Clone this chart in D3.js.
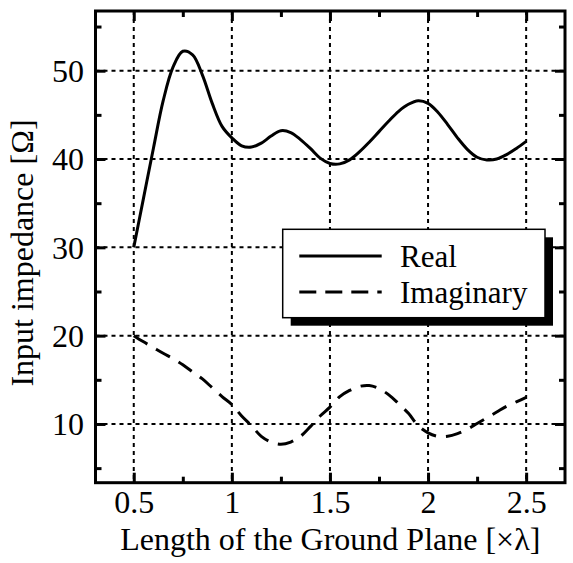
<!DOCTYPE html>
<html>
<head>
<meta charset="utf-8">
<script src="https://cdn.jsdelivr.net/npm/d3@7"></script>
<style>
  html, body { margin: 0; padding: 0; background: #fff; }
  svg { display: block; }
</style>
</head>
<body>
<svg id="chart" width="573" height="563"></svg>
<script>
// ---- data ----
const lengths = [0.5,0.55,0.6,0.65,0.7,0.75,0.8,0.85,0.9,0.95,1.0,1.05,1.1,1.15,1.2,1.25,1.3,1.35,1.4,1.45,1.5,1.55,1.6,1.65,1.7,1.75,1.8,1.85,1.9,1.95,2.0,2.05,2.1,2.15,2.2,2.25,2.3,2.35,2.4,2.45,2.5];
const realPart = [30.0,35.6,41.2,46.6,50.4,52.2,51.8,49.5,46.3,43.7,42.4,41.5,41.35,41.8,42.6,43.2,43.0,42.2,41.2,40.1,39.5,39.45,39.9,40.8,41.9,43.1,44.3,45.4,46.2,46.6,46.3,45.3,43.9,42.4,41.1,40.2,39.9,40.0,40.5,41.2,42.0];
const imagPart = [20.0,19.3,18.65,18.0,17.4,16.7,15.9,15.1,14.1,13.1,12.2,10.9,9.8,8.6,7.95,7.7,7.95,8.6,9.7,10.9,11.9,13.1,13.8,14.25,14.35,14.0,13.3,12.3,11.2,9.8,9.0,8.6,8.6,8.9,9.4,10.05,10.7,11.35,12.0,12.5,13.0];
const seriesNames = ["Real", "Imaginary"];
const xMajorTicks = [0.5, 1, 1.5, 2, 2.5];
const xTickLabels = ["0.5", "1", "1.5", "2", "2.5"];
const xMinorTicks = [0.75, 1.25, 1.75, 2.25];
const yMajorTicks = [10, 20, 30, 40, 50];
const yTickLabels = ["10", "20", "30", "40", "50"];
const yMinorTicks = [5, 15, 25, 35, 45, 55];
const xTitle = "Length of the Ground Plane [\u00D7\u03BB]";
const yTitle = "Input impedance [\u03A9]";

const FONT = "'Liberation Serif', 'Times New Roman', serif";

// ---- layout ----
const L = 95.5, T = 11, R = 565, B = 482.7;
const svg = d3.select("#chart");
const x = d3.scaleLinear().domain([0.305, 2.698]).range([L, R]);
const y = d3.scaleLinear().domain([3.35, 56.76]).range([B, T]);

// grid
const grid = svg.append("g");
grid.selectAll("line.gx").data(xMajorTicks).join("line")
  .attr("x1", d => x(d)).attr("x2", d => x(d)).attr("y1", T).attr("y2", B)
  .attr("stroke", "#000").attr("stroke-width", 2).attr("stroke-dasharray", "4,4");
grid.selectAll("line.gy").data(yMajorTicks).join("line")
  .attr("y1", d => y(d)).attr("y2", d => y(d)).attr("x1", L).attr("x2", R)
  .attr("stroke", "#000").attr("stroke-width", 2).attr("stroke-dasharray", "4,4");

// axes (inward ticks)
function styleAxis(g) {
  g.select(".domain").remove();
  g.selectAll(".tick line").attr("stroke", "#000").attr("stroke-width", 3);
}
const idx = (arr, d) => arr.indexOf(d);
svg.append("g").attr("transform", `translate(0,${B})`)
  .call(d3.axisBottom(x).tickValues(xMajorTicks).tickSize(-10).tickFormat(d => xTickLabels[idx(xMajorTicks, d)]))
  .call(styleAxis)
  .call(g => g.selectAll("text").attr("y", 30).attr("dy", 0)
     .style("font-family", FONT).style("font-size", "32px").style("fill", "#000"));
svg.append("g").attr("transform", `translate(0,${B})`)
  .call(d3.axisBottom(x).tickValues(xMinorTicks).tickSize(-6).tickFormat(""))
  .call(styleAxis);
svg.append("g").attr("transform", `translate(0,${T})`)
  .call(d3.axisTop(x).tickValues(xMajorTicks).tickSize(-10).tickFormat(""))
  .call(styleAxis);
svg.append("g").attr("transform", `translate(0,${T})`)
  .call(d3.axisTop(x).tickValues(xMinorTicks).tickSize(-6).tickFormat(""))
  .call(styleAxis);
svg.append("g").attr("transform", `translate(${L},0)`)
  .call(d3.axisLeft(y).tickValues(yMajorTicks).tickSize(-10).tickFormat(d => yTickLabels[idx(yMajorTicks, d)]))
  .call(styleAxis)
  .call(g => g.selectAll("text").attr("x", -11.5).attr("dy", "0.34em")
     .style("font-family", FONT).style("font-size", "32px").style("fill", "#000"));
svg.append("g").attr("transform", `translate(${L},0)`)
  .call(d3.axisLeft(y).tickValues(yMinorTicks).tickSize(-6).tickFormat(""))
  .call(styleAxis);
svg.append("g").attr("transform", `translate(${R},0)`)
  .call(d3.axisRight(y).tickValues(yMajorTicks).tickSize(-10).tickFormat(""))
  .call(styleAxis);
svg.append("g").attr("transform", `translate(${R},0)`)
  .call(d3.axisRight(y).tickValues(yMinorTicks).tickSize(-6).tickFormat(""))
  .call(styleAxis);

// curves
const line = d3.line().x((d, i) => x(lengths[i])).y(d => y(d)).curve(d3.curveCatmullRom);
svg.append("path").datum(realPart).attr("d", line)
  .attr("fill", "none").attr("stroke", "#000").attr("stroke-width", 3);
svg.append("path").datum(imagPart).attr("d", line)
  .attr("fill", "none").attr("stroke", "#000").attr("stroke-width", 3).attr("stroke-dasharray", "16,10");

// frame
svg.append("rect").attr("x", L).attr("y", T).attr("width", R - L).attr("height", B - T)
  .attr("fill", "none").attr("stroke", "#000").attr("stroke-width", 3);

// legend
const lg = { x: 282.7, y: 229.3, w: 262.3, h: 88.4, off: 8 };
svg.append("rect").attr("x", lg.x + lg.off).attr("y", lg.y + lg.off).attr("width", lg.w).attr("height", lg.h).attr("fill", "#000");
svg.append("rect").attr("x", lg.x).attr("y", lg.y).attr("width", lg.w).attr("height", lg.h)
  .attr("fill", "#fff").attr("stroke", "#000").attr("stroke-width", 1.5);
const legRows = [256, 292];
seriesNames.forEach((name, i) => {
  svg.append("line").attr("x1", 299.3).attr("x2", 381.7).attr("y1", legRows[i]).attr("y2", legRows[i])
    .attr("stroke", "#000").attr("stroke-width", 3).attr("stroke-dasharray", i === 1 ? "17,9" : null);
  svg.append("text").attr("x", 400).attr("y", legRows[i] + 11)
    .style("font-family", FONT).style("font-size", "31px").style("fill", "#000").text(name);
});

// titles
svg.append("text").attr("x", (L + R) / 2).attr("y", 550).attr("text-anchor", "middle")
  .style("font-family", FONT).style("font-size", "32px").style("fill", "#000").text(xTitle);
svg.append("text").attr("transform", `translate(33,253) rotate(-90)`).attr("text-anchor", "middle")
  .style("font-family", FONT).style("font-size", "32px").style("fill", "#000").text(yTitle);
</script>
</body>
</html>
